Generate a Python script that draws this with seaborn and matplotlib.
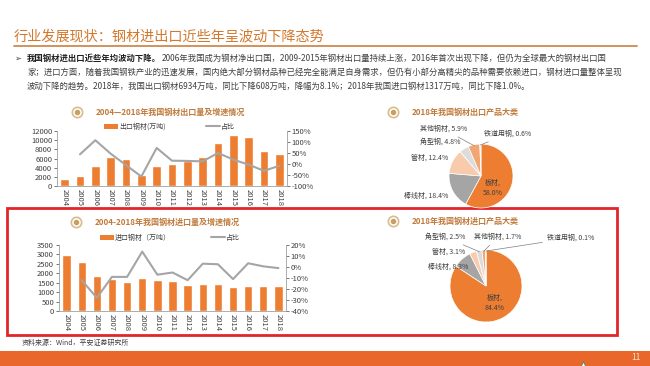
import numpy as np
import pandas as pd
import matplotlib
matplotlib.use("Agg")
import matplotlib.pyplot as plt
from matplotlib.patches import Rectangle, Patch
from matplotlib.lines import Line2D
import seaborn as sns

# ---- data ----
years = [str(y) for y in range(2004, 2019)]
export_vol = [1550, 2150, 4400, 6350, 5950, 2450, 4400, 4900, 5550, 6250, 9350, 11150, 10800, 7550, 6950]
export_growth = [np.nan, 44, 108, 47, -5, -57, 73, 15, 14, 12, 50, 20, -3, -31, -8]
import_vol = [2950, 2600, 1850, 1700, 1550, 1770, 1650, 1570, 1380, 1420, 1450, 1280, 1330, 1330, 1320]
import_growth = [np.nan, -12, -28, -9, -9, 14, -7, -5, -12, 3, 2.5, -11, 3.4, 0.6, -1]

pie_names = ['板材', '棒线材', '管材', '角型钢', '其他钢材', '铁道用钢']
export_share = [58.0, 18.4, 12.4, 4.8, 5.9, 0.6]
import_share = [84.4, 8.3, 3.1, 2.5, 1.7, 0.1]

title = '行业发展现状：钢材进出口近些年呈波动下降态势'
bullet_bold = '我国钢材进出口近些年均波动下降。'
bullet_lines = [
    '2006年我国成为钢材净出口国，2009-2015年钢材出口量持续上涨，2016年首次出现下降，但仍为全球最大的钢材出口国',
    '家；进口方面，随着我国钢铁产业的迅速发展，国内绝大部分钢材品种已经完全能满足自身需求，但仍有小部分高精尖的品种需要依赖进口，钢材进口量整体呈现',
    '波动下降的趋势。2018年，我国出口钢材6934万吨，同比下降608万吨，降幅为8.1%；2018年我国进口钢材1317万吨，同比下降1.0%。',
]

ORANGE = '#ED7D31'
GRAY = '#A5A5A5'
TAN = '#C07A3C'
TEXT = '#404040'
PIE_COLORS = ['#ED7D31', '#A5A5A5', '#F8CBAD', '#DCDCDC', '#F2A772', '#EFE6DF']

W, H = 650, 366

sns.set_style('white')
plt.rcParams['font.family'] = ['Noto Sans CJK SC', 'DejaVu Sans']
plt.rcParams['axes.unicode_minus'] = False

fig = plt.figure(figsize=(W / 100, H / 100), dpi=100)
fig.patch.set_facecolor('white')

# background axes in pixel coordinates for the slide decoration
bg = fig.add_axes([0, 0, 1, 1])
bg.set_xlim(0, W)
bg.set_ylim(H, 0)
bg.axis('off')


def px_axes(x0, y0, x1, y1):
    return fig.add_axes([x0 / W, 1 - y1 / H, (x1 - x0) / W, (y1 - y0) / H])


# slide header
bg.text(14, 36, title, fontsize=10.2, color='#D2792E', va='center')
bg.plot([14, 637], [46, 46], color='#CF8A4E', lw=1.3)

renderer = fig.canvas.get_renderer()
bg.text(14, 58, '➢', fontsize=6, color=TEXT, va='center')
tb = bg.text(27, 58, bullet_bold, fontsize=6, weight='bold', color='#202020', va='center')
x_end = tb.get_window_extent(renderer).x1
bg.text(x_end + 1, 58, bullet_lines[0], fontsize=6, color=TEXT, va='center')
bg.text(27, 72, bullet_lines[1], fontsize=6, color=TEXT, va='center')
bg.text(27, 86, bullet_lines[2], fontsize=6, color=TEXT, va='center')


def section_title(x, y, text):
    bg.scatter([x], [y], s=55, facecolor='white', edgecolor='#D6BC8E', lw=1.2, zorder=3)
    bg.scatter([x], [y], s=9, color='#C9A060', zorder=4)
    bg.text(x + 19, y, text, fontsize=5.8, color=TAN, weight='bold', va='center')


def bar_line(box, vol, growth, bar_label, ymax, ystep, rlo, rhi, rstep, legend_xy):
    ax = px_axes(*box)
    df = pd.DataFrame({'year': years, 'vol': vol, 'growth': growth})
    df['pos'] = np.arange(len(df))
    sns.barplot(data=df, x='year', y='vol', color=ORANGE, saturation=1,
                width=0.55, ax=ax)
    ax2 = ax.twinx()
    sns.lineplot(data=df.dropna(), x='pos', y='growth', color=GRAY, lw=1.5,
                 estimator=None, sort=False, ax=ax2)
    ax.set_xlim(-0.5, len(years) - 0.5)
    ax.set_ylim(0, ymax)
    ax.set_yticks(np.arange(0, ymax + 1, ystep))
    ax.tick_params(axis='y', labelsize=5.5, colors=TEXT, length=2, pad=1.5, width=0.5)
    ax.tick_params(axis='x', which='major', length=0, labelsize=5.5, labelcolor=TEXT, pad=2)
    ax.set_xticks(np.arange(-0.5, len(years), 1), minor=True)
    ax.tick_params(axis='x', which='minor', length=2, width=0.5, color=GRAY)
    for lab in ax.get_xticklabels():
        lab.set_rotation(270)
    rt = np.arange(rlo, rhi + 1, rstep)
    ax2.set_ylim(rlo, rhi)
    ax2.set_yticks(rt)
    ax2.set_yticklabels([f'{v}%' for v in rt])
    ax2.tick_params(axis='y', labelsize=5.5, colors=TEXT, length=2, pad=1.5, width=0.5)
    for a in (ax, ax2):
        a.set_xlabel('')
        a.set_ylabel('')
        a.spines['top'].set_visible(False)
        for s in ('left', 'right', 'bottom'):
            a.spines[s].set_color('#A0A0A0')
            a.spines[s].set_linewidth(0.6)
    ax.spines['right'].set_visible(False)
    ax2.spines['left'].set_visible(False)
    ax2.spines['bottom'].set_visible(False)
    handles = [Patch(facecolor=ORANGE, edgecolor='none'),
               Line2D([0], [0], color=GRAY, lw=1.5)]
    ax.legend(handles, [bar_label, '占比'], ncol=2, frameon=False, fontsize=5,
              loc='center left', bbox_to_anchor=(legend_xy[0] / W, 1 - legend_xy[1] / H),
              bbox_transform=fig.transFigure, borderpad=0, handlelength=2.0,
              handleheight=0.8, handletextpad=0.1, columnspacing=5.8,
              labelcolor=TEXT)
    return ax


# export chart (top left)
section_title(77, 112, '2004—2018年我国钢材出口量及增速情况')
bar_line((57, 131, 287, 186), export_vol, export_growth, '出口钢材(万吨)',
         12000, 2000, -100, 150, 50, (101, 127))

# import chart (bottom left)
section_title(76, 222, '2004-2018年我国钢材进口量及增速情况')
bar_line((59, 245, 286, 311), import_vol, import_growth, '进口钢材（万吨）',
         3500, 500, -40, 20, 10, (97, 238))


def draw_pie(cx, cy, r, shares, spots):
    pax = px_axes(cx - r, cy - r, cx + r, cy + r)
    wedges, _ = pax.pie(shares, colors=PIE_COLORS, startangle=90, counterclock=False,
                        wedgeprops=dict(edgecolor='white', linewidth=0.5))
    pax.set_xlim(-1, 1)
    pax.set_ylim(-1, 1)
    for w, name, share, (lx, ly, ha, leader) in zip(wedges, pie_names, shares, spots):
        sep = ',\n' if name == '板材' else ', '
        label = f'{name}{sep}{share:.1f}%'
        ang = np.deg2rad((w.theta1 + w.theta2) / 2)
        tip = (0.97 * np.cos(ang), 0.97 * np.sin(ang))
        arrow = dict(arrowstyle='-', color='#7F7F7F', lw=0.5, shrinkA=1, shrinkB=0) if leader else None
        pax.annotate(label, xy=tip, xytext=(lx, ly), textcoords=bg.transData,
                     ha=ha, va='center', fontsize=5, color=TEXT,
                     linespacing=1.3, arrowprops=arrow, annotation_clip=False)


section_title(393, 112, '2018年我国钢材出口产品大类')
draw_pie(481, 176, 32, export_share, [
    (493, 188, 'center', False),
    (448, 196, 'right', False),
    (448, 158, 'right', False),
    (461, 142, 'right', False),
    (467, 129, 'right', True),
    (484, 134, 'left', True),
])

section_title(393, 221, '2018年我国钢材进口产品大类')
draw_pie(486, 286, 36, import_share, [
    (495, 303, 'center', False),
    (468, 267, 'right', False),
    (465, 252, 'right', False),
    (465, 237, 'right', True),
    (474, 237, 'left', True),
    (547, 238, 'left', True),
])

# highlight box, source and footer
bg.add_patch(Rectangle((7, 208), 610, 127, fill=False, edgecolor='#E1252B', lw=2, zorder=5))
bg.text(22, 343, '资料来源：Wind，平安证券研究所', fontsize=5, color=TEXT, va='center')
bg.add_patch(Rectangle((0, 351), W, 15, color='#EA672C', lw=0))
bg.scatter([583], [364], marker='^', s=14, color='white', edgecolor='#3A9A5B', lw=0.6, zorder=6)
bg.text(640, 358, '11', fontsize=6, color='#FBE6CC', ha='right', va='center')

fig.savefig('out.png', dpi=100)
